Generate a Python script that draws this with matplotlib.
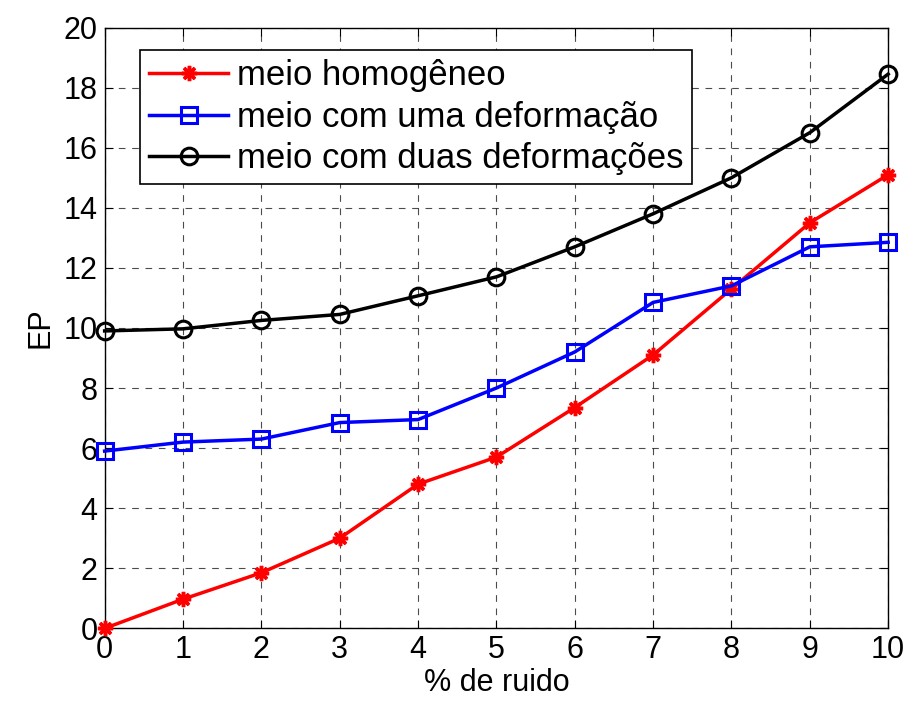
import matplotlib
matplotlib.use('Agg')
import matplotlib.pyplot as plt

plt.rcParams['font.family'] = ['Liberation Sans', 'DejaVu Sans']

ruido = [0, 1, 2, 3, 4, 5, 6, 7, 8, 9, 10]
homogeneo = [0.0, 0.97, 1.85, 3.0, 4.8, 5.7, 7.35, 9.1, 11.3, 13.5, 15.1]
uma_deformacao = [5.9, 6.2, 6.3, 6.85, 6.95, 8.0, 9.2, 10.85, 11.4, 12.7, 12.85]
duas_deformacoes = [9.9, 9.97, 10.25, 10.45, 11.07, 11.7, 12.7, 13.8, 15.0, 16.5, 18.45]

fig = plt.figure(figsize=(9.1, 7.06), dpi=100)
ax = fig.add_axes([0.115, 0.110, 0.861, 0.851])

ax.plot(ruido, homogeneo, color='red', lw=2.5, marker=(8, 2, 0), ms=11, mew=2.5,
        label='meio homogêneo', clip_on=False, zorder=3)
ax.plot(ruido, uma_deformacao, color='blue', lw=2.5, marker='s', ms=11, mew=2.2,
        mfc='none', label='meio com uma deformação', clip_on=False, zorder=3)
ax.plot(ruido, duas_deformacoes, color='black', lw=2.5, marker='o', ms=12, mew=2.2,
        mfc='none', label='meio com duas deformações', clip_on=False, zorder=3)

ax.set_xlim(0, 10)
ax.set_ylim(0, 20)
ax.set_xticks(range(0, 11))
ax.set_yticks(range(0, 21, 2))
ax.grid(True, color='black', linestyle=(0, (6, 6)), linewidth=0.8, alpha=0.7)
ax.tick_params(direction='in', top=True, right=True, labelsize=22, length=6, pad=5)
for s in ax.spines.values():
    s.set_linewidth(1.0)
ax.set_xlabel('% de ruido', fontsize=22, labelpad=2)
ax.set_ylabel('EP', fontsize=22, labelpad=6)

leg = ax.legend(loc='upper left', bbox_to_anchor=(0.045, 0.962), fontsize=25,
                fancybox=False, framealpha=1, edgecolor='black',
                handlelength=2.3, handletextpad=0.25, borderpad=0.25,
                labelspacing=0.25, borderaxespad=0)
leg.get_frame().set_linewidth(1.2)

fig.savefig('out.png', dpi=100)
